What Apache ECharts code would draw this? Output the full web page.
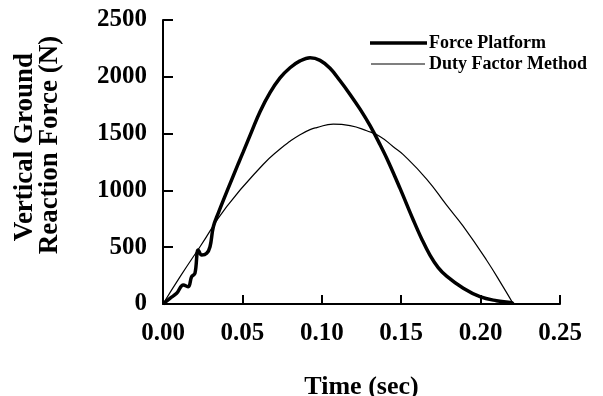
<!DOCTYPE html>
<html>
<head>
<meta charset="utf-8">
<script src="https://cdn.jsdelivr.net/npm/echarts@6/dist/echarts.min.js"></script>
<style>html,body{margin:0;padding:0;background:#fff;}#c{width:603px;height:396px;}</style>
</head>
<body>
<div id="c"></div>
<script>
var forceTime = [0.000,0.0044,0.0086,0.0128,0.0159,0.0180,0.0201,0.0222,0.0244,0.0275,0.0296,0.0317,0.0348,0.0405,0.0474,0.0506,0.0558,0.0611,0.0674,0.0737,0.0800,0.0863,0.0926,0.0989,0.1052,0.1115,0.1178,0.1241,0.1304,0.1366,0.1419,0.1492,0.1576,0.1630,0.1681,0.1733,0.1786,0.1891,0.1996,0.2100,0.2196,0.2204];
var forceValues = [0,50,94,167,152,240,270,475,431,446,504,680,800,1000,1235,1341,1517,1693,1860,1990,2080,2140,2168,2145,2075,1965,1845,1715,1570,1405,1253,1020,740,570,430,320,245,138,64,29,12,0];
var dutyTime = [0.000,0.0110,0.0233,0.0401,0.0632,0.0737,0.0800,0.0863,0.0926,0.0968,0.1072,0.1178,0.1283,0.1366,0.1450,0.1513,0.1660,0.1786,0.1890,0.2038,0.2143,0.2206];
var dutyValues = [0,245,504,857,1230,1365,1432,1490,1535,1553,1583,1570,1525,1475,1385,1315,1100,870,685,385,148,0];
var xTicks = [0.00,0.05,0.10,0.15,0.20,0.25];
var yTicks = [0,500,1000,1500,2000,2500];
var seriesNames = ['Force Platform','Duty Factor Method'];

function pairs(a,b){var r=[];for(var i=0;i<a.length;i++){r.push([a[i],b[i]]);}return r;}
var FONT = 'Liberation Serif';
var chart = echarts.init(document.getElementById('c'), null, {renderer:'canvas'});
chart.setOption({
  animation:false,
  backgroundColor:'#fff',
  grid:{left:163,right:43,top:20,bottom:92,containLabel:false,outerBoundsMode:'none'},
  xAxis:{
    type:'value', min:xTicks[0], max:xTicks[xTicks.length-1], interval:0.05,
    name:'Time (sec)', nameLocation:'middle', nameGap:70,
    nameTextStyle:{fontFamily:FONT,fontWeight:'bold',fontSize:26,color:'#000'},
    axisLine:{lineStyle:{color:'#000',width:2}},
    axisTick:{inside:true,length:9,lineStyle:{color:'#000',width:2}},
    splitLine:{show:false},
    axisLabel:{margin:17,fontFamily:FONT,fontWeight:'bold',fontSize:25,color:'#000',formatter:function(v){return v.toFixed(2);}}
  },
  yAxis:{
    type:'value', min:yTicks[0], max:yTicks[yTicks.length-1], interval:500,
    axisLine:{show:true,lineStyle:{color:'#000',width:2}},
    axisTick:{show:true,inside:true,length:10,lineStyle:{color:'#000',width:2}},
    splitLine:{show:false},
    axisLabel:{margin:16,fontFamily:FONT,fontWeight:'bold',fontSize:25,color:'#000',formatter:function(v){return String(v);}}
  },
  graphic:[
    {type:'text',x:25,y:147,rotation:Math.PI/2,style:{text:'Vertical Ground',fontFamily:FONT,fontWeight:'bold',fontSize:27,fill:'#000',align:'center',verticalAlign:'middle'}},
    {type:'text',x:50,y:145,rotation:Math.PI/2,style:{text:'Reaction Force (N)',fontFamily:FONT,fontWeight:'bold',fontSize:27,fill:'#000',align:'center',verticalAlign:'middle'}},
    {type:'line',shape:{x1:370,y1:43,x2:427,y2:43},style:{stroke:'#000',lineWidth:3.5}},
    {type:'text',x:429,y:43,style:{text:seriesNames[0],fontFamily:FONT,fontWeight:'bold',fontSize:18,fill:'#000',align:'left',verticalAlign:'middle'}},
    {type:'line',shape:{x1:371,y1:64,x2:425,y2:64},style:{stroke:'#000',lineWidth:1.2}},
    {type:'text',x:429,y:64,style:{text:seriesNames[1],fontFamily:FONT,fontWeight:'bold',fontSize:18,fill:'#000',align:'left',verticalAlign:'middle'}}
  ],
  series:[
    {name:seriesNames[0],type:'line',data:pairs(forceTime,forceValues),symbol:'none',smooth:0.4,lineStyle:{color:'#000',width:3.5},itemStyle:{color:'#000'}},
    {name:seriesNames[1],type:'line',data:pairs(dutyTime,dutyValues),symbol:'none',smooth:0.5,lineStyle:{color:'#000',width:1.2},itemStyle:{color:'#000'}}
  ]
});
</script>
</body>
</html>
